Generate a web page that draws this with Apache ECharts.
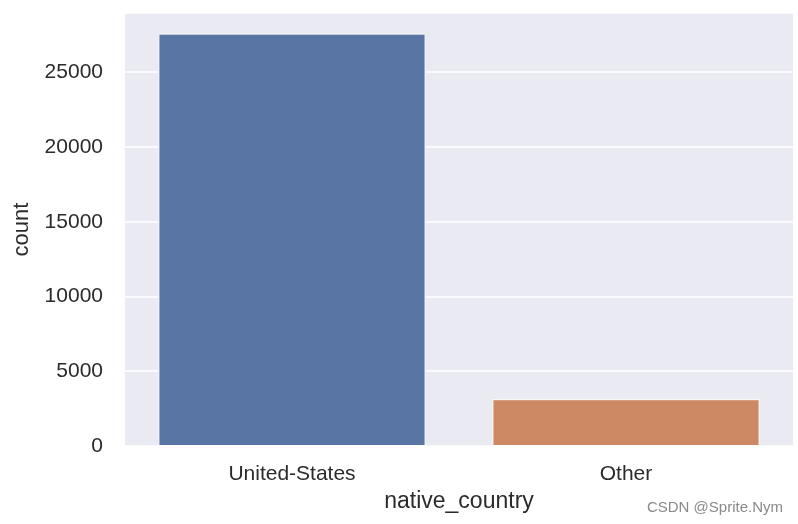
<!DOCTYPE html>
<html><head><meta charset="utf-8">
<script src="https://cdn.jsdelivr.net/npm/echarts@6/dist/echarts.min.js"></script>
<style>html,body{margin:0;padding:0;background:#fff}#c{width:798px;height:524px}</style>
</head><body><div id="c"></div>
<script>
const categories = ['United-States', 'Other'];
const counts = [27580, 3130];
const barColors = ['#5975a4', '#cc8963'];
const yTicks = [0, 5000, 10000, 15000, 20000, 25000];

const chart = echarts.init(document.getElementById('c'), null, {renderer: 'canvas'});
const font = 'Liberation Sans, Arial, sans-serif';
chart.setOption({
  animation: false,
  backgroundColor: '#ffffff',
  grid: {left: 125, right: 5, top: 13, bottom: 78, show: true, backgroundColor: '#eaeaf2', borderWidth: 0},
  xAxis: {
    type: 'category', data: categories,
    axisLine: {show: false}, axisTick: {show: false},
    axisLabel: {color: '#2b2b2b', fontSize: 21, fontFamily: font, margin: 18},
    name: 'native_country', nameLocation: 'middle', nameGap: 44,
    nameTextStyle: {color: '#2b2b2b', fontSize: 23, fontFamily: font}
  },
  yAxis: {
    type: 'value', min: 0, max: 28959, interval: 5000,
    axisLine: {show: false}, axisTick: {show: false},
    axisLabel: {color: '#2b2b2b', fontSize: 21, fontFamily: font, margin: 22,
      showMaxLabel: false,
      formatter: v => yTicks.includes(v) ? String(v) : ''},
    splitLine: {show: true, lineStyle: {color: '#ffffff', width: 1.5}},
    name: 'count', nameLocation: 'middle', nameGap: 92, nameRotate: 90,
    nameTextStyle: {color: '#2b2b2b', fontSize: 22, fontFamily: font}
  },
  series: [{
    type: 'bar', barWidth: '80%',
    data: counts.map((v, i) => ({value: v, itemStyle: {color: barColors[i]}})),
    itemStyle: {borderColor: '#ffffff', borderWidth: 1}
  }],
  graphic: [{
    type: 'text', right: 15, top: 500,
    style: {text: 'CSDN @Sprite.Nym', fill: '#8a8a8a', fontSize: 15, fontFamily: font}
  }]
});
</script></body></html>
